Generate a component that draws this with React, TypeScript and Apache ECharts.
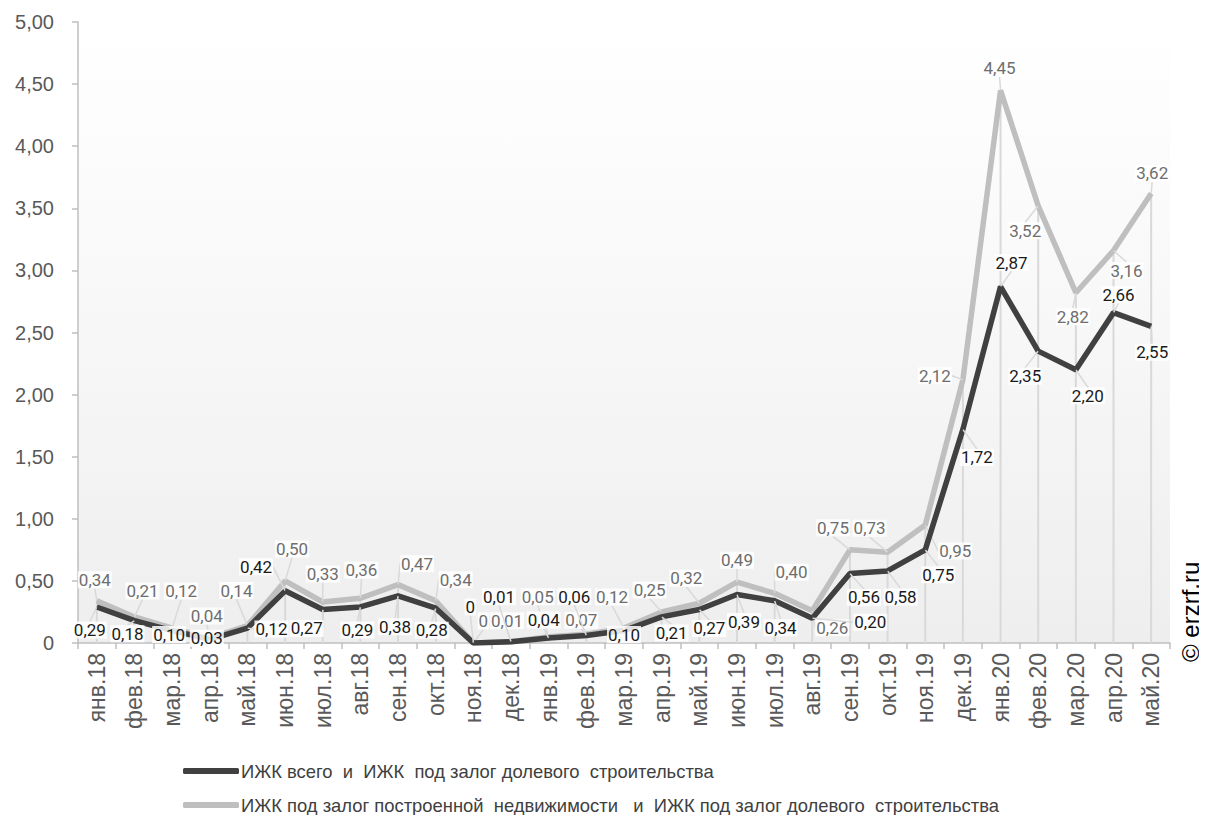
import React, { useEffect, useRef } from "react";
import * as echarts from "echarts";

const categories = [
  "янв.18", "фев.18", "мар.18", "апр.18", "май.18", "июн.18", "июл.18", "авг.18", "сен.18", "окт.18",
  "ноя.18", "дек.18", "янв.19", "фев.19", "мар.19", "апр.19", "май.19", "июн.19", "июл.19", "авг.19",
  "сен.19", "окт.19", "ноя.19", "дек.19", "янв.20", "фев.20", "мар.20", "апр.20", "май.20",
];

const darkName = "ИЖК всего  и  ИЖК  под залог долевого  строительства";
const lightName = "ИЖК под залог построенной  недвижимости   и  ИЖК под залог долевого  строительства";

const darkValues = [
  0.29, 0.18, 0.10, 0.03, 0.12, 0.42, 0.27, 0.29, 0.38, 0.28,
  0, 0.01, 0.04, 0.06, 0.10, 0.21, 0.27, 0.39, 0.34, 0.20,
  0.56, 0.58, 0.75, 1.72, 2.87, 2.35, 2.20, 2.66, 2.55,
];

const lightValues = [
  0.34, 0.21, 0.12, 0.04, 0.14, 0.50, 0.33, 0.36, 0.47, 0.34,
  0, 0.01, 0.05, 0.07, 0.12, 0.25, 0.32, 0.49, 0.40, 0.26,
  0.75, 0.73, 0.95, 2.12, 4.45, 3.52, 2.82, 3.16, 3.62,
];

const yTicks = [0, 0.5, 1, 1.5, 2, 2.5, 3, 3.5, 4, 4.5, 5];

// label offsets (style): [dx, dy] from the point
const darkLabelOffsets = [
  [-7, 23], [-7, 13], [-3, 4], [-3, -1], [24, 1], [-29, -24], [-16, 19], [-3, 23], [-3, 31], [-4, 22],
  [-3, -36], [-12, -45], [-5, -18], [-12, -39], [0, 4], [10, 16], [10, 19], [7, 27], [6, 27], [58, 4],
  [14, 24], [13, 26], [13, 25], [14, 28], [11, -24], [-13, 25], [12, 26], [5, -18], [1, 26],
];
const lightLabelOffsets = [
  [-2, -21], [8, -26], [9, -37], [-3, -22], [-11, -35], [7, -32], [0, -28], [1, -28], [19, -21], [20, -21],
  [10, -22], [-4, -21], [-11, -40], [-5, -14], [-12, -31], [-12, -22], [-13, -25], [0, -22], [17, -21], [20, 17],
  [-17, -22], [-18, -24], [30, 26], [-28, -4], [-1, -22], [-13, 25], [-3, 24], [13, 20], [1, -20],
];

const fmt = (v: number) => (v === 0 ? "0" : v.toFixed(2).replace(".", ","));

export default function App() {
  const ref = useRef<HTMLDivElement>(null);
  useEffect(() => {
    if (!ref.current) return;
    const chart = echarts.init(ref.current, null, { renderer: "svg" });
    const dropValues = categories.map((_, i) => Math.max(darkValues[i], lightValues[i]));
    const labelBase = {
      show: true,
      position: "inside",
      fontFamily: "Roboto",
      fontSize: 17,
      backgroundColor: "rgba(255,255,255,0.85)",
      padding: [0, 1],
      formatter: (p: any) => fmt(p.value),
    };
    chart.setOption({
      animation: false,
      grid: {
        left: 78,
        right: 37,
        top: 22,
        bottom: 180,
        show: true,
        borderWidth: 0,
        backgroundColor: new echarts.graphic.LinearGradient(0, 0, 0, 1, [
          { offset: 0, color: "#ffffff" },
          { offset: 0.45, color: "#f8f8f8" },
          { offset: 1, color: "#eeeeee" },
        ]),
      },
      legend: {
        orient: "vertical",
        left: 183,
        top: 762,
        padding: 0,
        itemGap: 16,
        itemWidth: 56,
        itemHeight: 6,
        icon: "roundRect",
        data: [darkName, lightName],
        textStyle: { fontFamily: "Liberation Sans", fontSize: 18.4, color: "#404040", padding: [0, 0, 0, -3] },
      },
      xAxis: {
        type: "category",
        data: categories,
        boundaryGap: true,
        axisLine: { lineStyle: { color: "#bfbfbf", width: 1.5 } },
        axisTick: { show: true, length: 6, lineStyle: { color: "#bfbfbf", width: 1.5 } },
        axisLabel: {
          rotate: 90,
          fontFamily: "Liberation Sans",
          fontSize: 23,
          color: "#595959",
          margin: 10,
          interval: 0,
        },
        splitLine: { show: false },
      },
      yAxis: {
        type: "value",
        min: 0,
        max: 5,
        interval: 0.5,
        axisLine: { show: true, lineStyle: { color: "#bfbfbf", width: 1.5 } },
        axisTick: { show: true, length: 6, lineStyle: { color: "#bfbfbf", width: 1.5 } },
        axisLabel: {
          fontFamily: "Liberation Sans",
          fontSize: 20,
          color: "#595959",
          margin: 24,
          formatter: (v: number) => (yTicks.includes(v) ? fmt(v) : ""),
        },
        splitLine: { show: false },
      },
      series: [
        {
          type: "bar",
          name: "drop",
          data: dropValues,
          barWidth: 2,
          silent: true,
          itemStyle: { color: "#d9d9d9" },
          z: 1,
        },
        {
          type: "line",
          name: darkName,
          data: darkValues,
          symbol: "circle",
          symbolSize: 0.5,
          showSymbol: true,
          itemStyle: { color: "#404040" },
          lineStyle: { color: "#404040", width: 5.5 },
          z: 3,
          label: {
            ...labelBase,
            color: "#1a1a1a",
          },
          labelLayout: (p: any) => ({ dx: darkLabelOffsets[p.dataIndex][0], dy: darkLabelOffsets[p.dataIndex][1] }),
          labelLine: { show: true, lineStyle: { color: "#d9d9d9", width: 1.5 } },
        },
        {
          type: "line",
          name: lightName,
          data: lightValues,
          symbol: "circle",
          symbolSize: 0.5,
          showSymbol: true,
          itemStyle: { color: "#bfbfbf" },
          lineStyle: { color: "#bfbfbf", width: 5.5 },
          z: 2,
          label: {
            ...labelBase,
            color: "#6e6e6e",
          },
          labelLayout: (p: any) => ({ dx: lightLabelOffsets[p.dataIndex][0], dy: lightLabelOffsets[p.dataIndex][1] }),
          labelLine: { show: true, lineStyle: { color: "#d9d9d9", width: 1.5 } },
        },
      ],
      graphic: [
        {
          type: "text",
          x: 1190,
          y: 662,
          rotation: Math.PI / 2,
          style: {
            text: "© erzrf.ru",
            fontFamily: "Liberation Sans",
            fontSize: 24,
            fill: "#000000",
            textAlign: "left",
            textVerticalAlign: "middle",
          },
        },
      ],
    });
    return () => chart.dispose();
  }, []);
  return <div ref={ref} style={{ width: 1207, height: 823, margin: -8 }} />;
}
